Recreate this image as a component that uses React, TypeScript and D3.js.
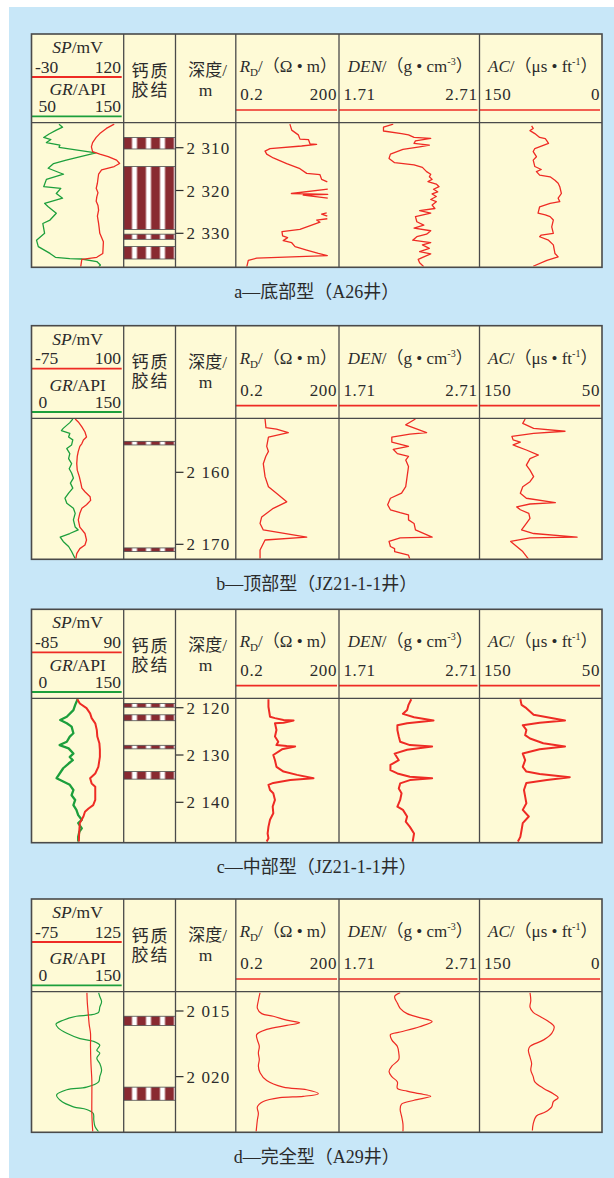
import React from 'react';
import * as d3 from 'd3';

type Pt = [number, number]; // [depth m, value]

// ---------- a: A26 ----------
const aGR: Pt[] = [[2304.5,80],[2305.2,84],[2305.9,77],[2306.8,69],[2307.6,63],[2308.1,71],[2308.8,66],[2309.4,81],[2309.9,80],[2311.2,121],[2312.9,88],[2313.7,74],[2314.8,68],[2316.2,85],[2317.4,66],[2319.1,63],[2319.5,82],[2320.7,77],[2321.8,84],[2323.0,64],[2323.8,68],[2325.3,77],[2326.9,70],[2327.7,62],[2330.0,64],[2331.6,55],[2333.1,57],[2334.7,70],[2335.6,76],[2335.9,92],[2336.0,105],[2336.6,122],[2337.4,126],[2337.9,124]];
const aSP: Pt[] = [[2304.5,107],[2305.5,94],[2306.7,83],[2307.6,77],[2308.8,71],[2309.8,69],[2310.9,71],[2311.5,83],[2312.1,97],[2312.9,111],[2313.7,116],[2314.4,107],[2315.2,86],[2316.2,81],[2317.2,80],[2318.3,79],[2319.5,77],[2320.5,80],[2321.5,78],[2322.5,77],[2323.5,80],[2324.6,81],[2326.0,79],[2327.7,81],[2328.8,82],[2330.0,83],[2332.0,89],[2334.7,88],[2335.6,78],[2336.1,53],[2338.0,51]];
const aRD: Pt[] = [[2304.5,7.7],[2305.9,8.7],[2307.0,13.6],[2308.0,15.2],[2308.1,27],[2309.1,30],[2309.2,47],[2309.6,17],[2310.2,2.0],[2310.8,1.43],[2311.5,1.6],[2312.4,2.5],[2313.7,6.2],[2314.9,15.2],[2316.0,24],[2316.3,59],[2317.4,66],[2318.0,97],[2318.1,NaN],
  [2319.7,100],[2320.7,8.5],[2320.9,100],[2321.1,19],[2321.8,100],[2321.9,NaN],
  [2325.2,93],[2325.5,66],[2326.0,97],[2326.1,NaN],
  [2326.6,97],[2326.9,47],[2327.4,59],[2329.1,15.2],[2329.6,4.5],[2330.6,4.7],[2331.0,6.6],[2331.7,4.9],[2332.2,8.7],[2333.1,10.9],[2333.9,24],[2334.7,53],[2335.2,97],[2335.8,0.81],[2336.3,0.46],[2338.0,0.41]];
const aDEN: Pt[] = [[2304.5,2.10],[2305.2,2.03],[2306.1,2.03],[2306.7,2.16],[2307.0,2.21],[2307.6,2.25],[2307.8,2.37],[2308.4,2.26],[2309.0,2.25],[2309.4,2.36],[2309.8,2.29],[2310.4,2.17],[2311.5,2.08],[2312.5,2.07],[2313.5,2.11],[2314.0,2.25],[2314.6,2.31],[2315.6,2.34],[2316.2,2.37],[2316.8,2.36],[2317.4,2.38],[2317.9,2.35],[2318.5,2.41],[2319.1,2.43],[2319.7,2.39],[2320.3,2.42],[2320.8,2.38],[2321.4,2.41],[2322.1,2.37],[2322.6,2.41],[2323.4,2.38],[2324.2,2.40],[2324.7,2.29],[2325.3,2.37],[2326.1,2.26],[2327.3,2.27],[2328.1,2.32],[2328.8,2.25],[2329.4,2.37],[2330.2,2.34],[2330.8,2.27],[2331.6,2.24],[2332.2,2.37],[2332.7,2.31],[2333.5,2.36],[2334.3,2.29],[2334.8,2.37],[2335.5,2.32],[2336.1,2.28],[2336.9,2.29],[2337.8,2.32]];
const aAC: Pt[] = [[2304.9,85],[2305.5,83],[2306.0,87],[2306.7,81],[2307.6,75],[2307.9,68],[2308.4,66],[2309.0,64],[2310.2,81],[2310.9,83],[2312.1,79],[2312.9,83],[2314.4,81],[2315.1,73],[2315.6,79],[2316.4,75],[2316.8,62],[2317.6,56],[2318.3,52],[2319.1,50],[2320.7,48],[2321.8,52],[2322.6,50],[2323.0,62],[2323.8,75],[2325.3,77],[2325.7,68],[2326.1,62],[2326.9,58],[2328.5,60],[2330.0,58],[2330.4,73],[2330.8,75],[2331.6,64],[2332.7,58],[2334.7,56],[2335.5,52],[2336.3,66],[2337.7,83]];
const aLith = [[2307.6,2310.3],[2314.4,2329.1],[2330.2,2331.4],[2333.1,2336.0]];
const aTicks = [2310, 2320, 2330];

// ---------- b: JZ21-1-1 top ----------
const bGR: Pt[] = [[2152.6,68],[2153.1,63],[2153.9,52],[2154.2,49],[2154.6,63],[2155.1,61],[2155.5,68],[2156.2,66],[2156.7,58],[2157.4,63],[2158.1,61],[2158.8,66],[2159.5,62],[2160.1,66],[2160.8,69],[2161.5,64],[2162.2,68],[2162.9,61],[2163.6,55],[2164.3,58],[2165.0,69],[2165.7,72],[2166.6,69],[2167.6,72],[2168.0,77],[2168.5,63],[2169.0,47],[2169.6,52],[2170.3,61],[2171.0,66],[2172.0,72]];
const bSP: Pt[] = [[2152.6,9],[2153.0,15],[2153.7,22],[2154.4,28],[2155.1,31],[2155.5,25],[2156.0,22],[2156.4,18],[2157.1,15],[2157.8,13],[2158.8,12],[2159.7,13],[2160.6,17],[2161.5,20],[2162.2,22],[2162.7,28],[2163.4,38],[2163.9,39],[2164.5,31],[2165.0,22],[2165.7,18],[2166.6,15],[2167.6,18],[2168.5,28],[2169.4,31],[2170.1,28],[2170.6,18],[2171.3,12],[2172.1,10]];
const bRD: Pt[] = [[2152.6,1.43],[2153.8,1.52],[2154.0,3.1],[2154.5,6.9],[2155.1,1.8],[2156.4,1.6],[2157.1,1.8],[2157.8,1.5],[2158.8,1.27],[2160.6,1.43],[2162.0,1.8],[2162.9,3.1],[2164.1,6.2],[2165.0,2.5],[2166.2,1.14],[2167.1,1.02],[2168.0,1.27],[2169.0,24],[2169.4,1.43],[2170.8,1.02],[2172.1,1.02]];
const bDEN: Pt[] = [[2152.6,2.26],[2153.4,2.19],[2154.5,2.34],[2154.7,2.22],[2155.1,2.09],[2155.8,2.09],[2156.4,2.21],[2156.8,2.10],[2157.4,2.13],[2157.8,2.21],[2158.3,2.19],[2159.2,2.21],[2160.6,2.20],[2162.0,2.19],[2162.9,2.16],[2163.6,2.08],[2164.5,2.06],[2165.2,2.08],[2165.6,2.15],[2165.9,2.21],[2166.6,2.21],[2167.1,2.25],[2168.0,2.26],[2169.0,2.38],[2169.1,2.15],[2169.6,2.07],[2170.3,2.08],[2170.6,2.11],[2171.0,2.11],[2171.5,2.21],[2172.1,2.22]];
const bAC: Pt[] = [[2152.6,112],[2153.2,114],[2153.9,105],[2154.3,79],[2154.6,105],[2155.0,123],[2155.5,122],[2155.8,116],[2156.2,122],[2156.4,119],[2156.9,111],[2157.6,101],[2158.1,108],[2159.0,111],[2159.7,108],[2160.6,105],[2161.3,108],[2162.0,114],[2162.9,116],[2163.6,111],[2164.2,87],[2164.4,108],[2164.8,119],[2165.2,116],[2165.7,109],[2166.4,108],[2167.1,111],[2168.0,115],[2168.5,105],[2169.0,69],[2169.1,108],[2169.6,124],[2170.3,119],[2171.0,114],[2172.1,109]];
const bLith = [[2155.7,2156.2],[2170.5,2171.0]];
const bTicks = [2160, 2170];

// ---------- c: JZ21-1-1 middle ----------
const cGR: Pt[] = [[2118.2,76],[2119.4,72],[2120.5,69],[2121.9,58],[2122.6,47],[2123.3,58],[2124.0,66],[2125.4,69],[2126.1,63],[2127.2,58],[2127.9,46],[2128.6,61],[2129.7,69],[2130.4,63],[2131.1,68],[2131.8,61],[2132.8,52],[2134.9,41],[2135.6,52],[2136.3,63],[2137.4,69],[2138.5,66],[2139.5,72],[2140.6,69],[2141.6,74],[2142.7,77],[2143.7,83],[2144.4,77],[2145.5,83],[2146.2,79],[2147.3,77],[2148.3,77]];
const cSP: Pt[] = [[2118.2,3],[2119.1,8],[2120.1,21],[2121.2,28],[2122.2,31],[2123.3,38],[2124.7,41],[2126.1,42],[2127.5,46],[2128.9,47],[2130.4,47],[2132.5,44],[2133.9,38],[2134.9,28],[2136.0,31],[2136.7,38],[2138.1,38],[2139.5,38],[2140.6,34],[2141.3,25],[2142.0,18],[2143.0,15],[2144.4,8],[2145.9,7],[2148.3,6]];
const cRD: Pt[] = [[2118.2,1.8],[2119.8,1.8],[2121.9,2.0],[2122.2,2.8],[2122.6,5.0],[2122.7,9.9],[2123.2,5.0],[2123.3,2.8],[2124.7,3.1],[2126.1,2.8],[2127.2,3.5],[2127.9,3.1],[2128.1,6.2],[2128.2,11],[2128.8,4.5],[2130.0,2.5],[2131.1,2.8],[2132.5,3.1],[2133.5,5.0],[2134.2,12.5],[2134.9,38],[2135.3,7.9],[2135.9,2.5],[2136.3,1.8],[2137.4,2.0],[2138.1,2.5],[2139.5,2.8],[2140.9,2.4],[2142.3,2.5],[2143.7,2.0],[2145.2,1.8],[2146.6,1.7],[2147.6,1.8],[2148.3,1.6]];
const cDEN: Pt[] = [[2118.2,2.23],[2119.4,2.21],[2120.5,2.20],[2121.3,2.17],[2122.0,2.25],[2122.7,2.39],[2123.3,2.20],[2123.7,2.13],[2124.7,2.13],[2126.1,2.14],[2127.2,2.15],[2127.9,2.22],[2128.2,2.38],[2128.9,2.20],[2129.7,2.11],[2131.1,2.14],[2132.1,2.08],[2133.2,2.08],[2133.9,2.13],[2134.6,2.22],[2134.9,2.38],[2135.3,2.22],[2136.0,2.15],[2137.1,2.14],[2138.1,2.16],[2139.5,2.15],[2140.9,2.13],[2141.6,2.17],[2143.0,2.20],[2144.1,2.19],[2145.2,2.22],[2146.6,2.25],[2148.3,2.24]];
const cAC: Pt[] = [[2118.2,116],[2119.4,115],[2120.1,111],[2121.5,105],[2122.7,79],[2123.2,100],[2123.7,114],[2124.7,111],[2125.8,112],[2126.5,108],[2127.5,97],[2128.2,79],[2128.8,100],[2129.7,114],[2131.1,112],[2132.5,114],[2133.5,111],[2134.0,100],[2134.7,75],[2135.3,94],[2135.9,111],[2137.4,113],[2138.8,112],[2140.2,111],[2141.6,114],[2143.0,109],[2144.4,114],[2145.9,115],[2147.3,116],[2148.3,118]];
const cLith = [[2119.1,2119.9],[2121.5,2122.75],[2127.95,2128.7],[2133.5,2135.1]];
const cTicks = [2120, 2130, 2140];

// ---------- d: A29 ----------
const dGR: Pt[] = [[2013.6,111],[2013.9,113],[2014.3,116],[2014.7,113],[2015.1,111],[2015.3,97],[2015.4,74],[2015.7,52],[2016.0,40],[2016.3,44],[2016.7,58],[2017.1,80],[2017.3,102],[2017.6,113],[2018.0,108],[2018.2,113],[2018.6,108],[2019.0,113],[2019.5,116],[2020.0,113],[2020.4,111],[2020.8,91],[2021.0,58],[2021.4,41],[2021.8,47],[2022.3,69],[2022.5,91],[2022.8,102],[2023.3,103],[2023.8,105],[2024.2,111]];
const dSP: Pt[] = [[2013.6,47],[2014.4,48],[2015.2,50],[2016.0,52],[2016.7,55],[2017.7,55],[2019.0,56],[2020.3,58],[2021.5,58],[2022.8,58],[2024.2,60]];
const dRD: Pt[] = [[2013.6,1.02],[2014.2,0.91],[2014.8,0.85],[2015.2,1.14],[2015.4,2.5],[2015.7,6.2],[2015.9,14.9],[2016.1,6.2],[2016.4,1.6],[2016.8,0.81],[2017.2,0.85],[2017.7,0.97],[2018.2,0.91],[2018.7,0.97],[2019.2,0.91],[2019.7,1.02],[2020.3,1.6],[2020.8,4.9],[2021.0,24],[2021.3,53],[2021.5,19],[2021.6,3.9],[2021.9,1.27],[2022.3,0.85],[2022.8,0.91],[2023.3,0.85],[2023.8,0.81],[2024.2,0.78]];
const dDEN: Pt[] = [[2013.6,2.15],[2013.9,2.11],[2014.4,2.13],[2014.8,2.15],[2015.2,2.20],[2015.5,2.29],[2015.8,2.38],[2016.2,2.29],[2016.6,2.15],[2016.8,2.08],[2017.2,2.09],[2017.7,2.13],[2018.2,2.14],[2018.7,2.14],[2019.2,2.09],[2019.6,2.07],[2020.0,2.09],[2020.4,2.13],[2020.9,2.13],[2021.1,2.20],[2021.3,2.29],[2021.5,2.37],[2021.8,2.25],[2022.1,2.16],[2022.5,2.15],[2023.0,2.16],[2023.6,2.17],[2024.2,2.17]];
const dAC: Pt[] = [[2013.6,87],[2014.2,86],[2014.7,87],[2015.1,83],[2015.4,75],[2015.8,64],[2016.2,57],[2016.7,60],[2017.2,70],[2017.7,87],[2018.0,89],[2018.5,87],[2019.0,85],[2019.5,86],[2020.0,83],[2020.4,81],[2020.9,70],[2021.3,58],[2021.6,52],[2021.9,58],[2022.3,60],[2022.7,68],[2023.0,79],[2023.6,83],[2024.1,84]];
const dLith = [[2015.4,2016.1],[2020.8,2021.8]];
const dTicks = [2015, 2020];

// scale ranges shown in the headers
const spRanges = [[-30, 120], [-75, 100], [-85, 90], [-75, 125]];
const grRanges = [[50, 150], [0, 150], [0, 150], [0, 150]];
const acRanges = [[150, 0], [150, 50], [150, 50], [150, 0]];
const rdRange = [0.2, 200];
const denRange = [1.71, 2.71];
const depthWindows = [[2304.16, 2337.94], [2152.5, 2172.08], [2118.01, 2148.54], [2013.53, 2024.24]];
const captions = ['a—底部型（A26井）', 'b—顶部型（JZ21-1-1井）', 'c—中部型（JZ21-1-1井）', 'd—完全型（A29井）'];

const GR = [aGR, bGR, cGR, dGR];
const SP = [aSP, bSP, cSP, dSP];
const RD = [aRD, bRD, cRD, dRD];
const DEN = [aDEN, bDEN, cDEN, dDEN];
const AC = [aAC, bAC, cAC, dAC];
const LITH = [aLith, bLith, cLith, dLith];
const TICKS = [aTicks, bTicks, cTicks, dTicks];

// layout
const COLS = [31.5, 123.7, 175.5, 235.8, 339, 479.5, 602];
const LAYOUT = [
  { top: 34, head: 122.7, bottom: 267.3, cap: 298, lw: 1.3 },
  { top: 325.7, head: 418.3, bottom: 559.3, cap: 590, lw: 1.3 },
  { top: 609.3, head: 698.3, bottom: 842.7, cap: 872.5, lw: 2 },
  { top: 899, head: 991.7, bottom: 1132.3, cap: 1163, lw: 1.2 },
];

const RED = '#ee2b24';
const GREEN = '#1d9f3c';
const INK = '#2b2b2b';
const GRID = '#4a4a4a';
const FONT = '"Liberation Serif", "Times New Roman", "Noto Sans CJK SC", serif';

const fmtDepth = (v: number) => `${Math.floor(v / 1000)} ${String(v % 1000).padStart(3, '0')}`;

function Panel({ i }: { i: number }) {
  const L = LAYOUT[i];
  const y = d3.scaleLinear().domain(depthWindows[i]).range([L.head, L.bottom]);
  const xSP = d3.scaleLinear().domain(spRanges[i]).range([32, 122]);
  const xGR = d3.scaleLinear().domain(grRanges[i]).range([32, 122]);
  const xRD = d3.scaleLog().domain(rdRange).range([236, 338]);
  const xDEN = d3.scaleLinear().domain(denRange).range([339, 478]);
  const xAC = d3.scaleLinear().domain(acRanges[i]).range([479.3, 600]);
  const curve = i === 3 ? d3.curveCatmullRom : d3.curveLinear;
  const mk = (xs: (v: number) => number) =>
    d3.line<Pt>().defined((p) => Number.isFinite(p[1])).x((p) => xs(p[1])).y((p) => y(p[0])).curve(curve);

  const spLine = L.top + 43;
  const grLine = L.head - 6.3;
  const trackLine = L.head - 12.7;
  const clipId = (k: number) => `clip-${i}-${k}`;
  const tracks = [[COLS[0], COLS[1]], [COLS[3], COLS[4]], [COLS[4], COLS[5]], [COLS[5], COLS[6]]];
  const mid = (a: number, b: number) => (a + b) / 2;

  return (
    <g fontFamily={FONT} fill={INK}>
      <defs>
        {tracks.map(([x0, x1], k) => (
          <clipPath id={clipId(k)} key={k}>
            <rect x={x0 + 0.8} y={L.head + 0.8} width={x1 - x0 - 1.6} height={L.bottom - L.head - 1.6} />
          </clipPath>
        ))}
      </defs>
      <rect x={COLS[0]} y={L.top} width={COLS[6] - COLS[0]} height={L.bottom - L.top} fill="#fefad6" />

      {/* header: SP / GR */}
      <text x={77.6} y={L.top + 19} textAnchor="middle" fontSize={17.5}>
        <tspan fontStyle="italic">SP</tspan>/mV
      </text>
      <text x={35} y={spLine - 4.5} fontSize={17.5}>{spRanges[i][0]}</text>
      <text x={121} y={spLine - 4.5} fontSize={17.5} textAnchor="end">{spRanges[i][1]}</text>
      <line x1={COLS[0]} x2={COLS[1] - 2} y1={spLine} y2={spLine} stroke={RED} strokeWidth={1.8} />
      <text x={77.6} y={grLine - 21.5} textAnchor="middle" fontSize={17.5}>
        <tspan fontStyle="italic">GR</tspan>/API
      </text>
      <text x={38.5} y={grLine - 4.5} fontSize={17.5}>{grRanges[i][0]}</text>
      <text x={121} y={grLine - 4.5} fontSize={17.5} textAnchor="end">{grRanges[i][1]}</text>
      <line x1={COLS[0]} x2={COLS[1] - 2} y1={grLine} y2={grLine} stroke={GREEN} strokeWidth={1.8} />

      {/* header: lithology + depth */}
      <text x={mid(COLS[1], COLS[2]) + 1} y={L.top + 42.5} textAnchor="middle" fontSize={17} letterSpacing={2}>钙质</text>
      <text x={mid(COLS[1], COLS[2]) + 1} y={L.top + 61.5} textAnchor="middle" fontSize={17} letterSpacing={2}>胶结</text>
      <text x={mid(COLS[2], COLS[3]) + 2} y={L.top + 42} textAnchor="middle" fontSize={17}>深度/</text>
      <text x={mid(COLS[2], COLS[3])} y={L.top + 62} textAnchor="middle" fontSize={17.5}>m</text>

      {/* header: RD, DEN, AC */}
      <text x={mid(COLS[3], COLS[4]) + 1} y={L.top + 38} textAnchor="middle" fontSize={17}>
        <tspan fontStyle="italic">R</tspan>
        <tspan fontSize={11} dy={4}>D</tspan>
        <tspan dy={-4}>/（Ω • m）</tspan>
      </text>
      <text x={mid(COLS[4], COLS[5]) + 1} y={L.top + 38} textAnchor="middle" fontSize={17}>
        <tspan fontStyle="italic">DEN</tspan>
        <tspan>/（g • cm</tspan>
        <tspan fontSize={10} dy={-7}>-3</tspan>
        <tspan dy={7}>）</tspan>
      </text>
      <text x={mid(COLS[5], COLS[6]) + 2} y={L.top + 38} textAnchor="middle" fontSize={17}>
        <tspan fontStyle="italic">AC</tspan>
        <tspan>/（μs • ft</tspan>
        <tspan fontSize={10} dy={-7}>-1</tspan>
        <tspan dy={7}>）</tspan>
      </text>
      {[
        [COLS[3], COLS[4], rdRange],
        [COLS[4], COLS[5], denRange.map((v) => v.toFixed(2))],
        [COLS[5], COLS[6], acRanges[i]],
      ].map(([x0, x1, r]: any, k) => (
        <g key={k}>
          <text x={x0 + 4.5} y={trackLine - 10} fontSize={17} letterSpacing={0.6}>{String(r[0])}</text>
          <text x={x1 - 2} y={trackLine - 10} fontSize={17} textAnchor="end" letterSpacing={0.6}>{String(r[1])}</text>
          <line x1={x0} x2={x1 - 2} y1={trackLine} y2={trackLine} stroke={RED} strokeWidth={1.6} />
        </g>
      ))}

      {/* calcite-cemented intervals */}
      {LITH[i].map(([t, b], k) => (
        <rect key={k} x={COLS[1]} y={y(t)} width={COLS[2] - COLS[1]} height={y(b) - y(t)}
          fill="url(#calcite)" stroke="#505050" strokeWidth={0.8} />
      ))}

      {/* depth ticks */}
      {TICKS[i].map((t) => (
        <g key={t}>
          <line x1={COLS[2]} x2={COLS[2] + 8} y1={y(t)} y2={y(t)} stroke={INK} strokeWidth={1.2} />
          <text x={COLS[2] + 11} y={y(t)} dy="0.36em" fontSize={17} letterSpacing={1.1}>{fmtDepth(t)}</text>
        </g>
      ))}

      {/* curves */}
      <g fill="none" strokeLinejoin="round" strokeWidth={L.lw}>
        <g clipPath={`url(#${clipId(0)})`}>
          <path d={mk(xGR)(GR[i]) || ''} stroke={GREEN} strokeWidth={i === 2 ? 2.3 : L.lw} />
          <path d={mk(xSP)(SP[i]) || ''} stroke={RED} />
        </g>
        <path clipPath={`url(#${clipId(1)})`} d={mk(xRD)(RD[i]) || ''} stroke={RED} />
        <path clipPath={`url(#${clipId(2)})`} d={mk(xDEN)(DEN[i]) || ''} stroke={RED} />
        <path clipPath={`url(#${clipId(3)})`} d={mk(xAC)(AC[i]) || ''} stroke={RED} />
      </g>

      {/* grid */}
      <g stroke={GRID} fill="none">
        <rect x={COLS[0]} y={L.top} width={COLS[6] - COLS[0]} height={L.bottom - L.top} strokeWidth={1.6} />
        <line x1={COLS[0]} x2={COLS[6]} y1={L.head} y2={L.head} strokeWidth={1.3} />
        {COLS.slice(1, 6).map((x) => (
          <line key={x} x1={x} x2={x} y1={L.top} y2={L.bottom} strokeWidth={1.3} />
        ))}
      </g>

      <text x={316.7} y={L.cap} textAnchor="middle" fontSize={18}>{captions[i]}</text>
    </g>
  );
}

export default function App() {
  return (
    <svg width={614} height={1178} style={{ position: 'absolute', left: 0, top: 0 }}>
      <defs>
        <pattern id="calcite" patternUnits="userSpaceOnUse" x={123.5} y={0} width={14} height={10}>
          <rect width={14} height={10} fill="#892a31" />
          <rect x={8.5} width={5} height={10} fill="#ffffff" />
        </pattern>
      </defs>
      <rect x={0} y={0} width={614} height={1178} fill="#ffffff" />
      <rect x={9} y={7} width={605} height={1171} fill="#c8e7f8" />
      {LAYOUT.map((_, i) => (
        <Panel key={i} i={i} />
      ))}
    </svg>
  );
}
